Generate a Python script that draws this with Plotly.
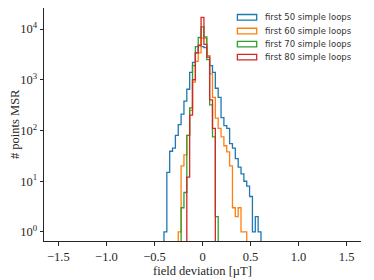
import plotly.graph_objects as go

# histogram bin grid
bin_lo = -1.5
bin_hi = 1.5
n_bins = 101

series_names = ["first 50 simple loops", "first 60 simple loops",
                "first 70 simple loops", "first 80 simple loops"]
series_colors = ["#1f77b4", "#ff7f0e", "#2ca02c", "#d62728"]

# index of first non-empty bin, then counts per bin
blue_first_bin = 37
blue_counts = [1, 15, 39, 45, 80, 130, 210, 380, 650, 1400, 2200, 3400, 4700, 4500,
               4300, 3000, 1900, 1400, 680, 450, 180, 125, 110, 55, 45, 28, 19, 14,
               10, 8, 5, 1, 2, 1]
orange_first_bin = 42
orange_counts = [1, 20, 33, 80, 250, 900, 2300, 3400, 6600, 6600, 3000, 1300, 450,
                 175, 110, 75, 50, 38, 20, 3, 2, 3, 1, 1]
green_first_bin = 43
green_counts = [3, 6, 80, 280, 1900, 4500, 6800, 11000, 7000, 2500, 320, 75, 2]
red_first_bin = 45
red_counts = [12, 200, 1000, 3400, 4800, 17000, 5000, 2800, 400, 110]

x_tick_vals = [-1.5, -1.0, -0.5, 0, 0.5, 1.0, 1.5]
x_tick_text = ["\u22121.5", "\u22121.0", "\u22120.5", "0", "0.5", "1.0", "1.5"]
y_tick_vals = [1, 10, 100, 1000, 10000]
y_tick_text = ["10<sup>0</sup>", "10<sup>1</sup>", "10<sup>2</sup>", "10<sup>3</sup>", "10<sup>4</sup>"]

bin_w = (bin_hi - bin_lo) / n_bins
floor_val = 0.1


def edge(k):
    return bin_lo + k * bin_w


def step_path(first, counts):
    xs = [edge(first)]
    ys = [floor_val]
    for i, c in enumerate(counts):
        xs += [edge(first + i), edge(first + i + 1)]
        ys += [c, c]
    xs.append(edge(first + len(counts)))
    ys.append(floor_val)
    return xs, ys


all_series = [(blue_first_bin, blue_counts), (orange_first_bin, orange_counts),
              (green_first_bin, green_counts), (red_first_bin, red_counts)]

fig = go.Figure()
for (first, counts), name, col in zip(all_series, series_names, series_colors):
    xs, ys = step_path(first, counts)
    fig.add_trace(go.Scatter(x=xs, y=ys, mode="lines", name=name,
                             line=dict(color=col, width=1.3), showlegend=False,
                             hoverinfo="skip"))

# legend imitation (outlined patches + text)
leg_x0, leg_x1 = 0.610, 0.671
leg_text_x = 0.691
row_y = [0.960, 0.901, 0.845, 0.789]
for name, col, ry in zip(series_names, series_colors, row_y):
    fig.add_shape(type="rect", xref="paper", yref="paper",
                  x0=leg_x0, x1=leg_x1, y0=ry - 0.012, y1=ry + 0.012,
                  line=dict(color=col, width=1.3), fillcolor="rgba(0,0,0,0)")
    fig.add_annotation(xref="paper", yref="paper", x=leg_text_x, y=ry,
                       text=name, showarrow=False, xanchor="left", yanchor="middle",
                       font=dict(family="DejaVu Sans", size=8.5, color="#333333"))

axis_font = dict(family="Liberation Serif", size=12.5, color="#262626")
title_font = dict(family="Liberation Serif", size=12.5, color="#262626")

# axis titles
fig.add_annotation(xref="paper", yref="paper", x=0.5, y=-0.127,
                   text="field deviation [\u00b5T]", showarrow=False,
                   xanchor="center", yanchor="middle", font=title_font)
fig.add_annotation(xref="paper", yref="paper", x=-0.093, y=0.5,
                   text="# points MSR", showarrow=False, textangle=-90,
                   xanchor="center", yanchor="middle", font=title_font)

fig.update_layout(
    width=366, height=272,
    margin=dict(l=36, r=13, t=0, b=39, pad=0),
    paper_bgcolor="white", plot_bgcolor="white",
    font=axis_font,
    xaxis=dict(range=[-1.65, 1.65], tickvals=x_tick_vals, ticktext=x_tick_text,
               showgrid=False, zeroline=False, showline=True, linecolor="#262626",
               linewidth=1, ticks="outside", ticklen=4, tickcolor="#262626",
               tickfont=axis_font, automargin=False),
    yaxis=dict(type="log", range=[-0.178, 4.414], tickvals=y_tick_vals, ticktext=y_tick_text,
               showgrid=False, zeroline=False, showline=True, linecolor="#262626",
               linewidth=1, ticks="outside", ticklen=3.5, tickcolor="#262626",
               tickfont=axis_font, automargin=False),
)

fig.write_html("out.html")
